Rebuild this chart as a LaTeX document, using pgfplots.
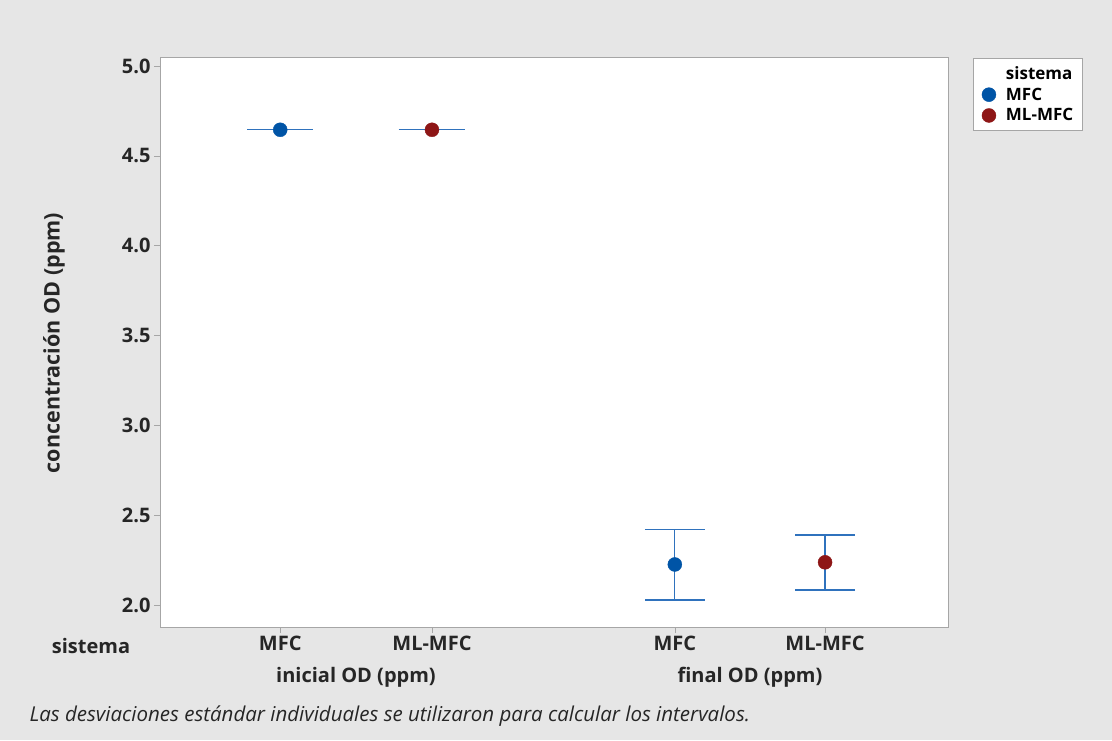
\documentclass[border=0pt]{standalone}
\usepackage{pgfplots}
\pgfplotsset{compat=1.18}
\usepackage{fontspec}
\setmainfont{Open Sans}
\definecolor{bggray}{HTML}{E6E6E6}
\definecolor{framegray}{HTML}{A6A6A6}
\definecolor{mblue}{HTML}{0054A6}
\definecolor{mred}{HTML}{8E1616}
\definecolor{eblue}{HTML}{2F72BD}
\begin{document}
\begin{tikzpicture}[x=1pt,y=1pt]
\fill[bggray] (0,0) rectangle (1112,740);
\useasboundingbox (0,0) rectangle (1112,740);
\begin{axis}[
  at={(160pt,113pt)}, anchor=south west,
  scale only axis, width=788pt, height=570pt,
  xmin=0.208, xmax=5.40, ymin=1.878, ymax=5.05,
  axis background/.style={fill=white},
  axis line style={framegray},
  tick style={framegray, line width=0.6pt},
  tick align=outside, major tick length=6pt,
  xtick={1,2,3.6,4.59},
  xticklabels={MFC,ML-MFC,MFC,ML-MFC},
  ytick={2.0,2.5,3.0,3.5,4.0,4.5,5.0},
  yticklabel style={/pgf/number format/.cd,fixed,fixed zerofill,precision=1},
  /pgf/number format/assume math mode=true,
  ticklabel style={font=\fontsize{20}{24}\selectfont\bfseries, text=black!85},
  xticklabel style={yshift=1pt},
  xtick pos=bottom, ytick pos=left,
  legend style={at={(axis description cs:1.032,0.998)}, anchor=north west,
    draw=framegray, fill=white, font=\fontsize{17}{20}\selectfont\bfseries,
    inner xsep=7pt, inner ysep=6pt, row sep=3pt,
    /tikz/every odd column/.append style={column sep=8pt},
    /tikz/every even column/.append style={column sep=6pt}},
  legend cell align=left,
  clip=false,
]
% error bars
\addplot[forget plot, only marks, mark=none,
  error bars/.cd, y dir=both, y explicit,
  error mark=|, error mark options={mark size=33pt, line width=1.4pt, eblue},
  error bar style={eblue, line width=1.3pt}]
  coordinates {(1,4.645) +- (0,0) (2,4.645) +- (0,0)};
\addplot[forget plot, only marks, mark=none,
  error bars/.cd, y dir=both, y explicit,
  error mark=|, error mark options={mark size=30pt, line width=1.4pt, eblue},
  error bar style={eblue, line width=1.3pt}]
  coordinates {(3.6,2.225) +- (0,0.197) (4.59,2.236) +- (0,0.153)};
\addlegendimage{empty legend}
\addlegendentry{sistema}
\addplot[only marks, mark=*, mark size=7pt, mblue, mark options={draw=mblue, fill=mblue}]
  coordinates {(1,4.645) (3.6,2.226)};
\addlegendentry{MFC}
\addplot[only marks, mark=*, mark size=7pt, mred, mark options={draw=mred, fill=mred}]
  coordinates {(2,4.645) (4.59,2.238)};
\addlegendentry{ML-MFC}
\end{axis}
\node[font=\fontsize{20}{24}\selectfont\bfseries, text=black!85] at (91,94) {sistema};
\node[font=\fontsize{20}{24}\selectfont\bfseries, text=black!85] at (356,63) {inicial OD (ppm)};
\node[font=\fontsize{20}{24}\selectfont\bfseries, text=black!85] at (750,63) {final OD (ppm)};
\node[font=\fontsize{21.5}{24}\selectfont\bfseries, text=black!85, rotate=90] at (54,397) {concentración OD (ppm)};
\node[font=\fontsize{20.5}{24}\selectfont\itshape, text=black!85, anchor=west] at (26,24) {Las desviaciones estándar individuales se utilizaron para calcular los intervalos.};
\end{tikzpicture}
\end{document}
